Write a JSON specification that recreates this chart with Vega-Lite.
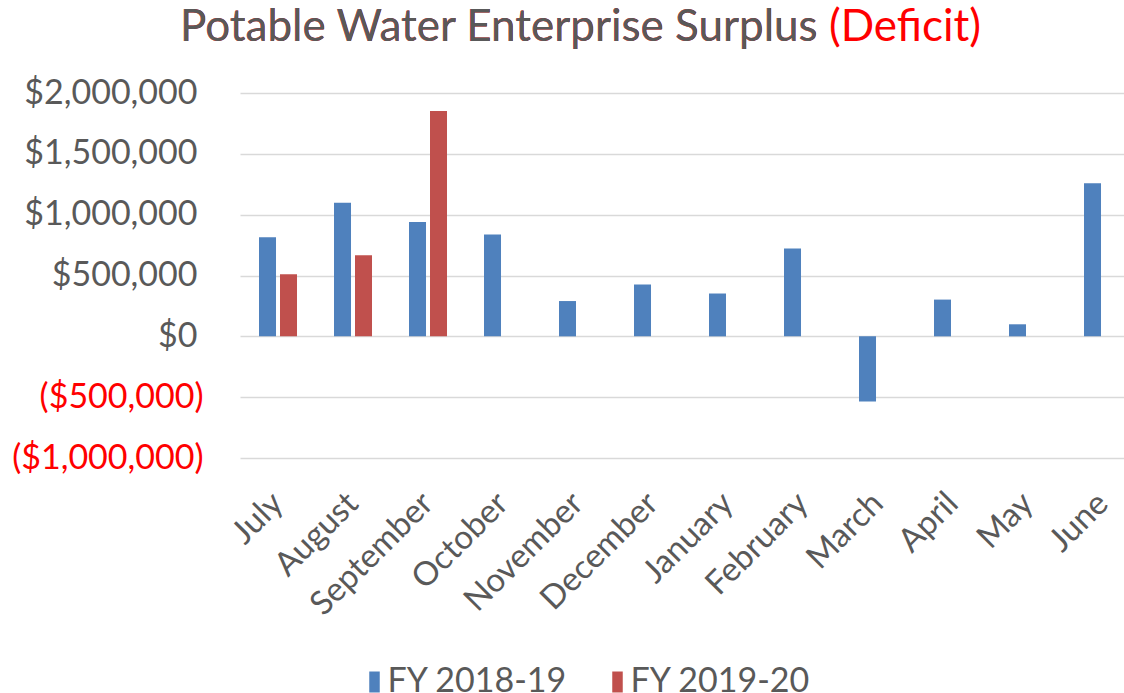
{
  "$schema": "https://vega.github.io/schema/vega-lite/v6.json",
  "width": 884,
  "height": 365,
  "autosize": {"type": "none"},
  "padding": {"left": 240, "top": 93, "right": 0, "bottom": 235},
  "background": "white",
  "config": {
    "font": "Lato",
    "view": {"stroke": null}
  },
  "title": {
    "text": "Potable Water Enterprise Surplus (Deficit)",
    "subtitle": "Potable Water Enterprise Surplus",
    "anchor": "start",
    "align": "left",
    "frame": "group",
    "dx": -60,
    "offset": 26,
    "font": "Lato",
    "fontSize": 44,
    "fontWeight": "normal",
    "color": "#FF0000",
    "limit": 2000,
    "subtitleFont": "Lato",
    "subtitleFontSize": 44,
    "subtitleColor": "#595959",
    "subtitlePadding": -44
  },
  "data": {
    "values": [
      {"month": "July", "series": "FY 2018-19", "value": 815000},
      {"month": "August", "series": "FY 2018-19", "value": 1098000},
      {"month": "September", "series": "FY 2018-19", "value": 940000},
      {"month": "October", "series": "FY 2018-19", "value": 838000},
      {"month": "November", "series": "FY 2018-19", "value": 290000},
      {"month": "December", "series": "FY 2018-19", "value": 426000},
      {"month": "January", "series": "FY 2018-19", "value": 352000},
      {"month": "February", "series": "FY 2018-19", "value": 722000},
      {"month": "March", "series": "FY 2018-19", "value": -535000},
      {"month": "April", "series": "FY 2018-19", "value": 302000},
      {"month": "May", "series": "FY 2018-19", "value": 99000},
      {"month": "June", "series": "FY 2018-19", "value": 1258000},
      {"month": "July", "series": "FY 2019-20", "value": 510000},
      {"month": "August", "series": "FY 2019-20", "value": 667000},
      {"month": "September", "series": "FY 2019-20", "value": 1853000}
    ]
  },
  "mark": {"type": "bar"},
  "encoding": {
    "x": {
      "field": "month",
      "type": "nominal",
      "sort": ["July", "August", "September", "October", "November", "December", "January", "February", "March", "April", "May", "June"],
      "scale": {"paddingInner": 0.4933, "paddingOuter": 0.14, "align": 0.905},
      "axis": {
        "title": null,
        "domain": false,
        "ticks": false,
        "grid": false,
        "labelAngle": -45,
        "labelAlign": "right",
        "labelBaseline": "middle",
        "labelPadding": 40,
        "labelFontSize": 33,
        "labelColor": "#595959",
        "labelFont": "Lato",
        "labelLimit": 400
      }
    },
    "xOffset": {
      "field": "series",
      "type": "nominal",
      "scale": {"paddingInner": 0.19, "paddingOuter": 0}
    },
    "y": {
      "field": "value",
      "type": "quantitative",
      "scale": {"domain": [-1000000, 2000000], "nice": false, "zero": false},
      "axis": {
        "title": null,
        "domain": false,
        "ticks": false,
        "grid": true,
        "gridColor": "#D9D9D9",
        "gridWidth": 1.5,
        "values": [-1000000, -500000, 0, 500000, 1000000, 1500000, 2000000],
        "format": "($,.0f",
        "labelFontSize": 34,
        "labelFont": "Lato",
        "labelLimit": 400,
        "labelColor": {"condition": {"test": "datum.value < 0", "value": "#FF0000"}, "value": "#595959"},
        "labelPadding": {"condition": {"test": "datum.value < 0", "value": 37}, "value": 43}
      }
    },
    "color": {
      "field": "series",
      "type": "nominal",
      "scale": {"domain": ["FY 2018-19", "FY 2019-20"], "range": ["#4F81BD", "#C0504D"]},
      "legend": {
        "title": null,
        "orient": "none",
        "direction": "horizontal",
        "legendX": 117.5,
        "legendY": 572,
        "padding": 0,
        "symbolType": "M-0.5,-1H0.5V1H-0.5Z",
        "symbolSize": 441,
        "symbolStrokeWidth": 0,
        "labelOffset": -4,
        "labelFontSize": 34,
        "labelFont": "Lato",
        "labelColor": "#595959",
        "labelLimit": 400,
        "columnPadding": 32
      }
    }
  }
}
